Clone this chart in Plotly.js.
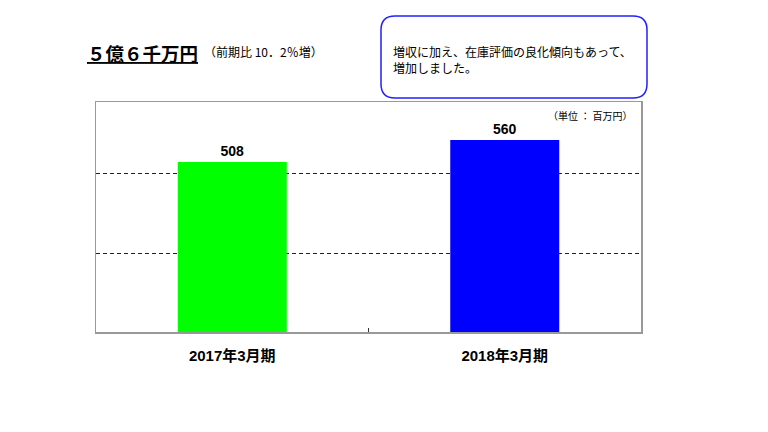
<!DOCTYPE html>
<html>
<head>
<meta charset="utf-8">
<script src="https://cdn.plot.ly/plotly-3.0.1.min.js"></script>
<style>html,body{margin:0;padding:0;background:#fff;}#chart{width:768px;height:432px;}</style>
</head>
<body>
<div id="chart"></div>
<script>
// ---- data ----
const categories = ["2017年3月期", "2018年3月期"];
const values = [508, 560];
const barColors = ["#00ff00", "#0000ff"];
const titleMain = "５億６千万円";
const titleSub = "（前期比 10．2％増）";
const noteLines = ["増収に加え、在庫評価の良化傾向もあって、", "増加しました。"];
const unitLabel = "（単位 ： 百万円）";
const gridValues = [292, 481];

// ---- layout helpers (pixel -> paper) ----
const W = 768, H = 432;
const M = {l: 96, r: 127, t: 102, b: 100};
const PW = W - M.l - M.r, PH = H - M.t - M.b;
const px = x => (x - M.l) / PW;
const py = y => (H - M.b - y) / PH;

const FONT = "Liberation Sans, Arial, 'Noto Sans CJK JP', sans-serif";
const JFONT = "'Noto Sans CJK JP', sans-serif";

// rounded rectangle path in paper coords
function roundRect(x0, y0, x1, y1, r) {
  const X0 = px(x0), X1 = px(x1), Y0 = py(y0), Y1 = py(y1);
  const rx = r / PW, ry = r / PH;
  return `M ${X0 + rx},${Y0} L ${X1 - rx},${Y0} Q ${X1},${Y0} ${X1},${Y0 - ry} ` +
         `L ${X1},${Y1 + ry} Q ${X1},${Y1} ${X1 - rx},${Y1} ` +
         `L ${X0 + rx},${Y1} Q ${X0},${Y1} ${X0},${Y1 + ry} ` +
         `L ${X0},${Y0 - ry} Q ${X0},${Y0} ${X0 + rx},${Y0} Z`;
}

const trace = {
  type: "bar",
  x: categories,
  y: values,
  width: 0.4,
  marker: {color: barColors, line: {width: 0}},
  text: values.map(String),
  textposition: "outside",
  cliponaxis: false,
  textfont: {family: FONT, size: 14, color: "#000", weight: "bold"},
  texttemplate: "<b>%{text}</b>",
  hoverinfo: "skip"
};

const layout = {
  width: W, height: H,
  margin: M,
  paper_bgcolor: "#fff",
  plot_bgcolor: "#fff",
  showlegend: false,
  bargap: 0.6,
  xaxis: {
    type: "category",
    range: [-0.5, 1.5],
    showline: true, mirror: true, linecolor: "#999999", linewidth: 1.5,
    ticks: "inside", tickson: "boundaries", ticklen: 4, tickcolor: "#333", tickwidth: 1,
    showgrid: false,
    tickfont: {family: FONT, size: 15, color: "#000", weight: "bold"},
    ticklabelstandoff: 9,
    fixedrange: true
  },
  yaxis: {
    range: [106, 650],
    tickmode: "array", tickvals: gridValues, showticklabels: false, ticks: "",
    showgrid: true, gridcolor: "#222", gridwidth: 1, griddash: "4px,3px",
    zeroline: false,
    showline: true, mirror: true, linecolor: "#999999", linewidth: 1.5,
    fixedrange: true
  },
  shapes: [
    {type: "path", xref: "paper", yref: "paper", path: roundRect(381, 16, 647, 98, 14),
     line: {color: "#2020ff", width: 1.5}, fillcolor: "#fff"}
  ],
  annotations: [
    {xref: "paper", yref: "paper", x: px(85), y: py(53), xanchor: "left", yanchor: "middle",
     text: "<b><u>" + titleMain + "</u></b>", showarrow: false,
     font: {family: JFONT, size: 18.5, color: "#000"}},
    {xref: "paper", yref: "paper", x: px(202), y: py(52), xanchor: "left", yanchor: "middle",
     text: titleSub, showarrow: false,
     font: {family: JFONT, size: 12, color: "#000"}},
    {xref: "paper", yref: "paper", x: px(391), y: py(60), xanchor: "left", yanchor: "middle",
     align: "left",
     text: noteLines.join("<br>"), showarrow: false,
     font: {family: JFONT, size: 12, color: "#000"}},
    {xref: "paper", yref: "paper", x: px(634), y: py(115), xanchor: "right", yanchor: "middle",
     text: unitLabel, showarrow: false,
     font: {family: JFONT, size: 10, color: "#000"}}
  ]
};

Plotly.newPlot("chart", [trace], layout, {displayModeBar: false, staticPlot: true});
</script>
</body>
</html>
